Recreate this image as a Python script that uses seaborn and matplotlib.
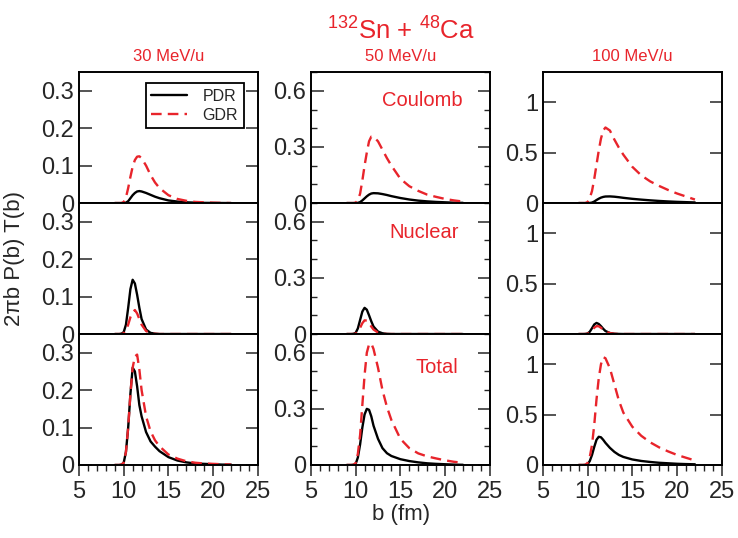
import numpy as np
import pandas as pd
import matplotlib
matplotlib.use("Agg")
import matplotlib.pyplot as plt
from matplotlib.ticker import MultipleLocator, FuncFormatter, NullLocator
from matplotlib.lines import Line2D
import seaborn as sns

# ---------------- data ----------------
b_fm = [9, 9.5, 9.75, 10, 10.25, 10.5, 10.75, 11, 11.25, 11.5, 11.75, 12,
        12.5, 13, 13.5, 14, 15, 16, 17, 18, 19, 20, 21, 22]

energies = ["30 MeV/u", "50 MeV/u", "100 MeV/u"]
modes = ["Coulomb", "Nuclear", "Total"]

# 30 MeV/u
c30_coul_pdr = [0, 0, 0, 0, 0.001, 0.005, 0.013, 0.021, 0.027, 0.031, 0.032, 0.031,
                0.027, 0.022, 0.017, 0.013, 0.007, 0.004, 0.002, 0.001, 0.0005, 0.0003, 0.0001, 0]
c30_coul_gdr = [0, 0, 0, 0.003, 0.015, 0.04, 0.07, 0.097, 0.115, 0.124, 0.125, 0.12,
                0.1, 0.075, 0.055, 0.04, 0.021, 0.011, 0.006, 0.003, 0.002, 0.001, 0.0005, 0]
c30_nuc_pdr = [0, 0, 0.001, 0.005, 0.025, 0.07, 0.12, 0.145, 0.135, 0.105, 0.07, 0.04,
               0.012, 0.003, 0.001, 0, 0, 0, 0, 0, 0, 0, 0, 0]
c30_nuc_gdr = [0, 0, 0, 0.002, 0.01, 0.025, 0.045, 0.058, 0.064, 0.055, 0.04, 0.025,
               0.008, 0.002, 0.0005, 0, 0, 0, 0, 0, 0, 0, 0, 0]
c30_tot_pdr = [0, 0, 0.001, 0.006, 0.035, 0.1, 0.19, 0.26, 0.25, 0.21, 0.16, 0.13,
               0.088, 0.063, 0.049, 0.037, 0.021, 0.012, 0.007, 0.004, 0.003, 0.002, 0.001, 0.001]
c30_tot_gdr = [0, 0, 0.001, 0.006, 0.035, 0.1, 0.19, 0.26, 0.29, 0.295, 0.255, 0.2,
               0.13, 0.09, 0.066, 0.05, 0.028, 0.017, 0.01, 0.006, 0.004, 0.003, 0.002, 0.001]

# 50 MeV/u
c50_coul_pdr = [0, 0, 0, 0, 0.001, 0.005, 0.014, 0.025, 0.036, 0.045, 0.051, 0.053,
                0.052, 0.048, 0.043, 0.037, 0.027, 0.019, 0.013, 0.009, 0.006, 0.004, 0.002, 0.001]
c50_coul_gdr = [0, 0, 0, 0.002, 0.015, 0.05, 0.12, 0.2, 0.27, 0.33, 0.355, 0.355,
                0.33, 0.285, 0.24, 0.2, 0.13, 0.09, 0.065, 0.045, 0.033, 0.022, 0.014, 0.008]
c50_nuc_pdr = [0, 0, 0.001, 0.006, 0.03, 0.075, 0.12, 0.14, 0.13, 0.1, 0.068, 0.04,
               0.013, 0.004, 0.001, 0, 0, 0, 0, 0, 0, 0, 0, 0]
c50_nuc_gdr = [0, 0, 0, 0.002, 0.012, 0.033, 0.058, 0.073, 0.072, 0.058, 0.04, 0.024,
               0.008, 0.002, 0, 0, 0, 0, 0, 0, 0, 0, 0, 0]
c50_tot_pdr = [0, 0, 0.001, 0.005, 0.04, 0.11, 0.2, 0.27, 0.3, 0.295, 0.26, 0.21,
               0.14, 0.09, 0.063, 0.048, 0.031, 0.021, 0.014, 0.009, 0.006, 0.004, 0.002, 0.001]
c50_tot_gdr = [0, 0, 0.001, 0.01, 0.06, 0.16, 0.32, 0.48, 0.6, 0.645, 0.65, 0.62,
               0.52, 0.4, 0.31, 0.24, 0.14, 0.09, 0.062, 0.046, 0.035, 0.025, 0.017, 0.012]

# 100 MeV/u
c100_coul_pdr = [0, 0, 0, 0, 0.001, 0.005, 0.015, 0.03, 0.043, 0.054, 0.061, 0.065,
                 0.066, 0.063, 0.058, 0.052, 0.042, 0.034, 0.027, 0.021, 0.016, 0.012, 0.009, 0.006]
c100_coul_gdr = [0, 0, 0, 0.01, 0.05, 0.12, 0.24, 0.38, 0.52, 0.64, 0.72, 0.75,
                 0.72, 0.63, 0.55, 0.48, 0.36, 0.275, 0.215, 0.17, 0.13, 0.095, 0.065, 0.035]
c100_nuc_pdr = [0, 0, 0.001, 0.005, 0.023, 0.058, 0.095, 0.11, 0.1, 0.078, 0.052, 0.03,
                0.01, 0.003, 0.001, 0, 0, 0, 0, 0, 0, 0, 0, 0]
c100_nuc_gdr = [0, 0, 0, 0.003, 0.015, 0.038, 0.063, 0.078, 0.077, 0.062, 0.043, 0.026,
                0.009, 0.002, 0, 0, 0, 0, 0, 0, 0, 0, 0, 0]
c100_tot_pdr = [0, 0, 0.001, 0.005, 0.04, 0.1, 0.18, 0.25, 0.28, 0.275, 0.25, 0.22,
                0.17, 0.13, 0.1, 0.08, 0.055, 0.04, 0.03, 0.022, 0.017, 0.012, 0.009, 0.007]
c100_tot_gdr = [0, 0, 0.002, 0.02, 0.08, 0.2, 0.4, 0.65, 0.86, 1.0, 1.07, 1.06,
                0.96, 0.8, 0.64, 0.52, 0.38, 0.29, 0.225, 0.175, 0.135, 0.1, 0.072, 0.045]

panels = {
    (0, 0): (c30_coul_pdr, c30_coul_gdr), (1, 0): (c30_nuc_pdr, c30_nuc_gdr), (2, 0): (c30_tot_pdr, c30_tot_gdr),
    (0, 1): (c50_coul_pdr, c50_coul_gdr), (1, 1): (c50_nuc_pdr, c50_nuc_gdr), (2, 1): (c50_tot_pdr, c50_tot_gdr),
    (0, 2): (c100_coul_pdr, c100_coul_gdr), (1, 2): (c100_nuc_pdr, c100_nuc_gdr), (2, 2): (c100_tot_pdr, c100_tot_gdr),
}

y_max = [0.35, 0.7, 1.3]
y_major = [0.1, 0.3, 0.5]
y_minor = [None, 0.1, None]

RED = "#e8242b"

# ---------------- style ----------------
sns.set_theme(style="ticks")
plt.rcParams["font.family"] = ["Liberation Sans", "DejaVu Sans"]
plt.rcParams["mathtext.fontset"] = "custom"
plt.rcParams["mathtext.rm"] = "Liberation Sans"

fig, axes = plt.subplots(3, 3, figsize=(7.38, 5.38), dpi=100)
fig.subplots_adjust(left=0.107, right=0.978, bottom=0.1357, top=0.866,
                    wspace=0.296, hspace=0.0)

fmt = FuncFormatter(lambda v, p: "%g" % round(v, 3))

for r in range(3):
    for c in range(3):
        ax = axes[r, c]
        pdr, gdr = panels[(r, c)]
        df = pd.DataFrame({"b": b_fm, "PDR": pdr, "GDR": gdr})
        sns.lineplot(data=df, x="b", y="PDR", ax=ax, color="black", lw=1.7)
        sns.lineplot(data=df, x="b", y="GDR", ax=ax, color=RED, lw=1.7,
                     linestyle=(0, (4.5, 2.6)))
        ax.set_xlim(5, 25)
        ax.set_ylim(0, y_max[c])
        ax.set_xlabel("")
        ax.set_ylabel("")
        ax.xaxis.set_major_locator(MultipleLocator(5))
        ax.xaxis.set_minor_locator(MultipleLocator(1))
        ax.yaxis.set_major_locator(MultipleLocator(y_major[c]))
        if y_minor[c]:
            ax.yaxis.set_minor_locator(MultipleLocator(y_minor[c]))
        else:
            ax.yaxis.set_minor_locator(NullLocator())
        ax.yaxis.set_major_formatter(fmt)
        ax.xaxis.set_major_formatter(fmt)
        ax.tick_params(axis="x", which="major", direction="out", length=8, width=1.1,
                       top=False, bottom=True, labelsize=17, pad=3.5,
                       labelbottom=(r == 2))
        ax.tick_params(axis="x", which="minor", direction="out", length=4.5, width=1.0,
                       top=False, bottom=True)
        ax.tick_params(axis="y", which="major", direction="in", length=9, width=1.1,
                       left=True, right=True, labelsize=17, pad=3.5)
        ax.tick_params(axis="y", which="minor", direction="in", length=4.5, width=1.0,
                       left=True, right=True)
        for s in ax.spines.values():
            s.set_linewidth(1.4)
            s.set_color("black")
        if ax.get_legend() is not None:
            ax.get_legend().remove()

# legend in the first panel
handles = [Line2D([], [], color="black", lw=1.7),
           Line2D([], [], color=RED, lw=1.7, linestyle=(0, (4.5, 2.6)))]
leg = axes[0, 0].legend(handles, ["PDR", "GDR"], loc="upper right",
                        bbox_to_anchor=(0.92, 0.915), fontsize=11.5,
                        frameon=True, fancybox=False, framealpha=1,
                        edgecolor="black", handlelength=2.2, borderpad=0.35,
                        labelspacing=0.25, handletextpad=1.0, borderaxespad=0)
leg.get_frame().set_linewidth(1.3)

# panel labels
axes[0, 1].text(0.62, 0.786, "Coulomb", transform=axes[0, 1].transAxes,
                color=RED, fontsize=14.5, ha="center", va="center")
axes[1, 1].text(0.633, 0.773, "Nuclear", transform=axes[1, 1].transAxes,
                color=RED, fontsize=14.5, ha="center", va="center")
axes[2, 1].text(0.706, 0.746, "Total", transform=axes[2, 1].transAxes,
                color=RED, fontsize=14.5, ha="center", va="center")

# column titles
for c in range(3):
    pos = axes[0, c].get_position()
    fig.text((pos.x0 + pos.x1) / 2, 0.895, energies[c], color=RED,
             fontsize=12, ha="center", va="center")

fig.text(0.543, 0.944, r"$^{132}$Sn + $^{48}$Ca", color=RED, fontsize=18.5,
         ha="center", va="center")
fig.text(0.543, 0.043, "b (fm)", fontsize=16, ha="center", va="center")
fig.text(0.02, 0.52, "2\u03c0b P(b) T(b)", fontsize=16, ha="center", va="center",
         rotation=90)

fig.savefig("out.png", dpi=100)
